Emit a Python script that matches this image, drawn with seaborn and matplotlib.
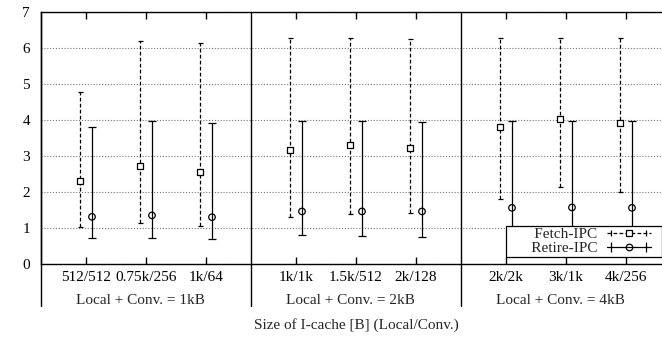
import numpy as np
import pandas as pd
import matplotlib
matplotlib.use("Agg")
import matplotlib.pyplot as plt
import seaborn as sns
from matplotlib.lines import Line2D
from matplotlib.legend_handler import HandlerLine2D, HandlerTuple
from matplotlib.transforms import blended_transform_factory

# ---- data ----
configs = ["512/512", "0.75k/256", "1k/64",
           "1k/1k", "1.5k/512", "2k/128",
           "2k/2k", "3k/1k", "4k/256"]
groups = ["Local + Conv. = 1kB", "Local + Conv. = 2kB", "Local + Conv. = 4kB"]
group_of = [0, 0, 0, 1, 1, 1, 2, 2, 2]
fetch_mid = [2.30, 2.71, 2.56, 3.16, 3.31, 3.22, 3.81, 4.02, 3.91]
fetch_lo = [1.02, 1.13, 1.06, 1.30, 1.39, 1.43, 1.81, 2.15, 2.01]
fetch_hi = [4.78, 6.20, 6.13, 6.29, 6.29, 6.26, 6.29, 6.29, 6.29]
retire_mid = [1.31, 1.35, 1.30, 1.46, 1.46, 1.46, 1.56, 1.57, 1.56]
retire_lo = [0.72, 0.72, 0.69, 0.80, 0.79, 0.74, 0.87, 0.90, 0.90]
retire_hi = [3.81, 3.98, 3.93, 3.98, 3.98, 3.95, 3.98, 3.98, 3.98]
yticks = [0, 1, 2, 3, 4, 5, 6, 7]

sns.set_theme(style="white")
plt.rcParams["font.family"] = ["Liberation Serif", "DejaVu Serif"]
plt.rcParams["lines.scale_dashes"] = True

pos = np.arange(len(configs)) + 1 + 0.5 * np.array(group_of)
off = 0.1

df = pd.DataFrame({
    "x": np.concatenate([pos - off, pos + off]),
    "y": np.concatenate([fetch_mid, retire_mid]),
    "lo": np.concatenate([fetch_lo, retire_lo]),
    "hi": np.concatenate([fetch_hi, retire_hi]),
    "series": ["Fetch-IPC"] * len(configs) + ["Retire-IPC"] * len(configs),
})

fig = plt.figure(figsize=(6.62, 3.37), dpi=100)
ax = fig.add_axes([41 / 662, 73 / 337, 630 / 662, 252 / 337])

fdf = df[df.series == "Fetch-IPC"]
rdf = df[df.series == "Retire-IPC"]

dash = (0, (3, 1.8))
eb1 = ax.errorbar(fdf.x, fdf.y, yerr=[fdf.y - fdf.lo, fdf.hi - fdf.y], fmt="none",
                  ecolor="black", elinewidth=0.9, capsize=1.8, capthick=0.9, zorder=3)
for c in eb1[2]:
    c.set_linestyle(dash)
ax.errorbar(rdf.x, rdf.y, yerr=[rdf.y - rdf.lo, rdf.hi - rdf.y], fmt="none",
            ecolor="black", elinewidth=0.9, capsize=3, capthick=0.9, zorder=3)

sns.scatterplot(data=fdf, x="x", y="y", marker="s", s=19, facecolor="white",
                edgecolor="black", linewidth=0.9, ax=ax, zorder=4, legend=False)
sns.scatterplot(data=rdf, x="x", y="y", marker="o", s=22, facecolor="none",
                edgecolor="black", linewidth=0.9, ax=ax, zorder=4, legend=False)

ax.set_xlim(0.25, 10.75)
ax.set_ylim(0, 7)
ax.set_yticks(yticks)
ax.set_xticks(pos)
ax.set_xticklabels(configs)
ax.set_xlabel("")
ax.set_ylabel("")
ax.tick_params(axis="x", direction="in", length=5, width=1, top=True, bottom=True,
               pad=5, labelsize=11, color="black", labelcolor="black")
ax.tick_params(axis="y", length=0, pad=8, labelsize=11, labelcolor="black")
for s in ["top", "bottom", "left", "right"]:
    ax.spines[s].set_color("black")
    ax.spines[s].set_linewidth(1.0)
ax.yaxis.grid(True, linestyle=(0, (1, 1.6)), color="#777777", linewidth=0.8)
ax.xaxis.grid(False)
ax.set_axisbelow(True)
ax.xaxis.set_zorder(6)

# group separators and extended left axis
tr = blended_transform_factory(ax.transData, fig.transFigure)
ybot = 1 - 306 / 337
ytop = 1 - 12 / 337
for xs in [0.25, 3.75, 7.25]:
    ax.add_line(Line2D([xs, xs], [ybot, ytop], transform=tr, color="black",
                       linewidth=1.0, clip_on=False, zorder=2))

gcenters = [pos[[i for i, g in enumerate(group_of) if g == k]].mean() for k in range(len(groups))]
for gx, gl in zip(gcenters, groups):
    ax.text(gx - 0.1, 1 - 300 / 337, gl, transform=tr, ha="center", va="center", fontsize=11)

ax.text(pos.mean(), 1 - 325 / 337, "Size of I-cache [B] (Local/Conv.)", transform=tr,
        ha="center", va="center", fontsize=11)


# legend handler that leaves some space at the right end of the sample
class PaddedLine(HandlerLine2D):
    def create_artists(self, legend, orig_handle, xdescent, ydescent, width, height,
                       fontsize, trans):
        return super().create_artists(legend, orig_handle, xdescent, ydescent,
                                      width * 0.83, height, fontsize, trans)


f_line = Line2D([], [], color="black", linestyle=dash, linewidth=0.9,
                marker="s", markersize=4.5, markerfacecolor="white", markeredgewidth=0.9)
f_caps = Line2D([], [], color="black", linestyle="none", marker="|", markersize=4,
                markeredgewidth=0.9)
r_line = Line2D([], [], color="black", linestyle="-", linewidth=0.9,
                marker="o", markersize=4.7, markerfacecolor="none", markeredgewidth=0.9)
r_caps = Line2D([], [], color="black", linestyle="none", marker="|", markersize=7,
                markeredgewidth=0.9)
hmap = {f_caps: PaddedLine(numpoints=2), r_caps: PaddedLine(numpoints=2),
        f_line: PaddedLine(numpoints=1), r_line: PaddedLine(numpoints=1)}
pad = " " * 6
leg = fig.legend([(f_line, f_caps), (r_line, r_caps)],
                 [pad + "Fetch-IPC", pad + "Retire-IPC"],
                 handler_map={**hmap, tuple: HandlerTuple(ndivide=1)},
                 loc="lower right", bbox_to_anchor=(1.0, 80 / 337),
                 bbox_transform=fig.transFigure, markerfirst=False, fancybox=False,
                 framealpha=1, edgecolor="black", fontsize=11, handlelength=3.5,
                 handletextpad=0.6, borderpad=0.12, labelspacing=0.0,
                 borderaxespad=0)
leg.get_frame().set_linewidth(0.9)
leg.set_zorder(5)

fig.savefig("out.png", dpi=100)
